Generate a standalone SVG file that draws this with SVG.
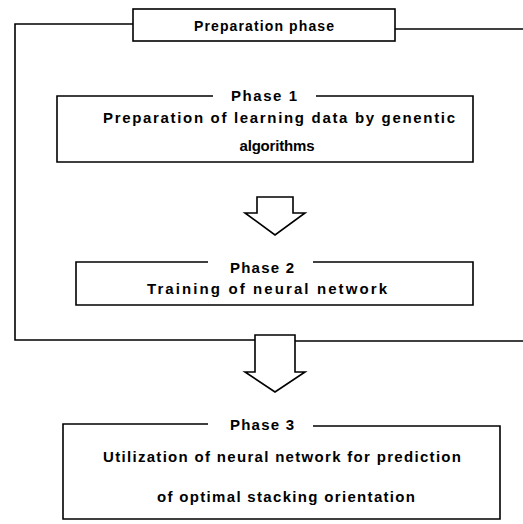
<svg xmlns="http://www.w3.org/2000/svg" width="523" height="524" viewBox="0 0 523 524">
<style>
.ln{fill:none;stroke:#000;stroke-width:1.6}
.bx{fill:#fff;stroke:#000;stroke-width:1.6}
text{font-family:"Liberation Sans",Arial,sans-serif;font-weight:bold;font-size:15px;fill:#000;text-anchor:middle}
.sm{font-size:14px}
</style>
<rect width="523" height="524" fill="#fff"/>
<g id="connectors">
<path class="ln" d="M133,24 H15 V340 H255"/>
<path class="ln" d="M395,29 H523"/>
<path class="ln" d="M295,341 H523"/>
<path id="arrow1" class="bx" d="M257,197 H293 V213 H305 L275,235 L245,213 H257 Z"/>
<path id="arrow2" class="bx" d="M255,335 H295 V372 H305 L275,392 L245,372 H255 Z"/>
</g>
<g id="prep">
<rect class="bx" x="133" y="9" width="262" height="32"/>
<text class="sm" x="264" y="31" textLength="140" lengthAdjust="spacing">Preparation phase</text>
</g>
<g id="phase1">
<path class="ln" d="M213,96 H57 V162 H473 V96 H316"/>
<text x="264" y="101" textLength="66" lengthAdjust="spacing">Phase 1</text>
<text x="279" y="123" textLength="352" lengthAdjust="spacing">Preparation of learning data by genentic</text>
<text x="277" y="151" textLength="75" lengthAdjust="spacing">algorithms</text>
</g>
<g id="phase2">
<path class="ln" d="M208,262 H76 V305 H473 V262 H313"/>
<text x="262" y="273" textLength="64" lengthAdjust="spacing">Phase 2</text>
<text x="267" y="294" textLength="240" lengthAdjust="spacing">Training of neural network</text>
</g>
<g id="phase3">
<path class="ln" d="M208,424 H63 V519 H500 V426 H313"/>
<text x="262" y="430" textLength="64" lengthAdjust="spacing">Phase 3</text>
<text x="282" y="462" textLength="358" lengthAdjust="spacing">Utilization of neural network for prediction</text>
<text x="286" y="502" textLength="258" lengthAdjust="spacing">of optimal stacking orientation</text>
</g>
</svg>
